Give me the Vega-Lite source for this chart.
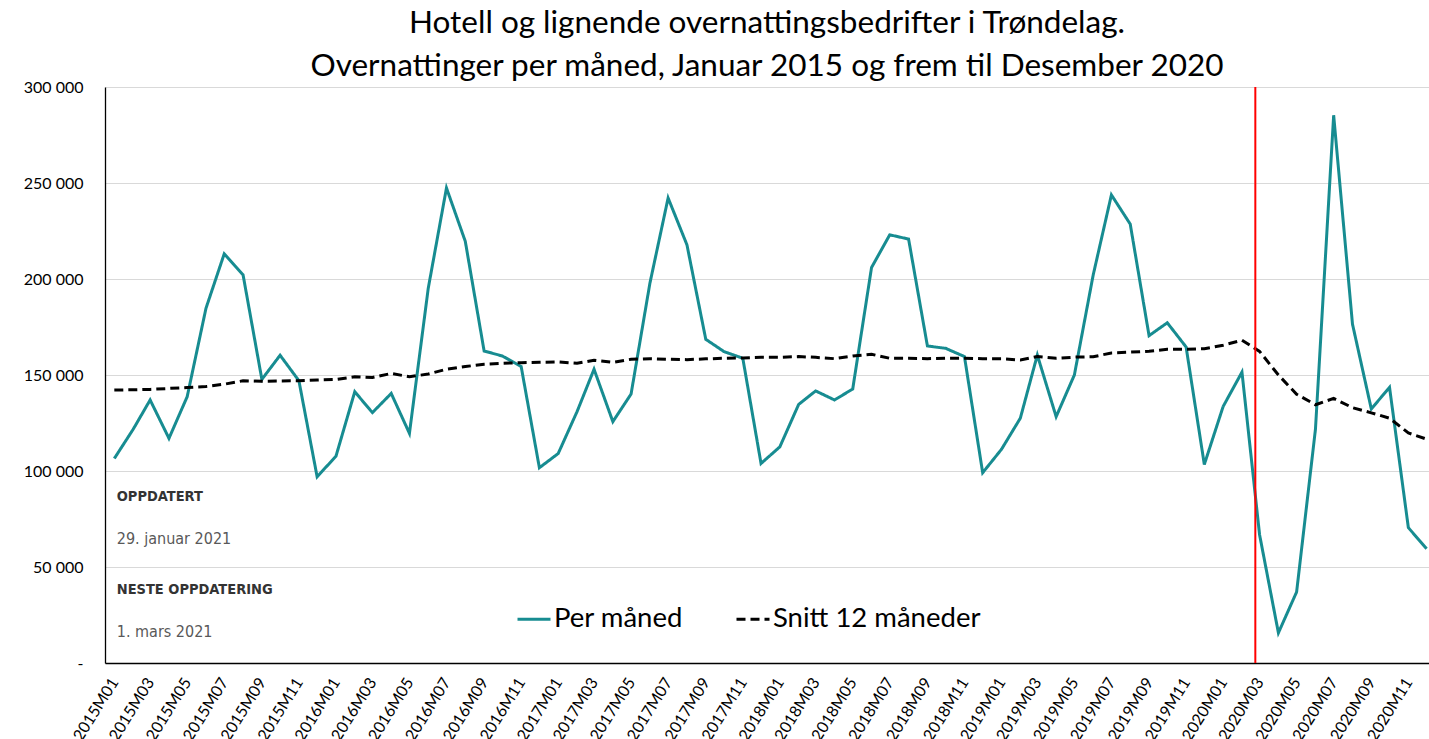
{
  "$schema": "https://vega.github.io/schema/vega-lite/v6.json",
  "width": 1324,
  "height": 576,
  "autosize": {"type": "none"},
  "padding": {"left": 105, "top": 87, "right": 0, "bottom": 76},
  "background": "white",
  "title": {
    "text": ["Hotell og lignende overnattingsbedrifter i Trøndelag.", "Overnattinger per måned, Januar 2015 og frem til Desember 2020"],
    "font": "Lato", "fontSize": 31.5, "fontWeight": "normal", "color": "#000000",
    "lineHeight": 43, "anchor": "middle", "offset": 12, "baseline": "alphabetic", "dy": 40
  },
  "config": {"view": {"stroke": null}, "font": "Lato"},
  "data": {"values": [
    {"m": "2015-01-01", "Per måned": 106500, "Snitt 12 måneder": 142200},
    {"m": "2015-02-01", "Per måned": 121700, "Snitt 12 måneder": 142300},
    {"m": "2015-03-01", "Per måned": 137000, "Snitt 12 måneder": 142500},
    {"m": "2015-04-01", "Per måned": 117000, "Snitt 12 måneder": 143000},
    {"m": "2015-05-01", "Per måned": 138700, "Snitt 12 måneder": 143500},
    {"m": "2015-06-01", "Per måned": 184800, "Snitt 12 måneder": 144000},
    {"m": "2015-07-01", "Per måned": 213100, "Snitt 12 måneder": 145200},
    {"m": "2015-08-01", "Per måned": 202200, "Snitt 12 måneder": 147000},
    {"m": "2015-09-01", "Per måned": 147700, "Snitt 12 måneder": 146700},
    {"m": "2015-10-01", "Per måned": 160300, "Snitt 12 måneder": 146900},
    {"m": "2015-11-01", "Per måned": 147000, "Snitt 12 måneder": 147000},
    {"m": "2015-12-01", "Per måned": 97000, "Snitt 12 måneder": 147400},
    {"m": "2016-01-01", "Per måned": 107700, "Snitt 12 måneder": 147700},
    {"m": "2016-02-01", "Per måned": 141300, "Snitt 12 måneder": 149100},
    {"m": "2016-03-01", "Per måned": 130400, "Snitt 12 måneder": 148700},
    {"m": "2016-04-01", "Per måned": 140400, "Snitt 12 måneder": 150800},
    {"m": "2016-05-01", "Per måned": 119600, "Snitt 12 måneder": 149100},
    {"m": "2016-06-01", "Per måned": 195200, "Snitt 12 måneder": 150500},
    {"m": "2016-07-01", "Per måned": 247400, "Snitt 12 måneder": 153000},
    {"m": "2016-08-01", "Per måned": 219600, "Snitt 12 måneder": 154400},
    {"m": "2016-09-01", "Per måned": 162500, "Snitt 12 måneder": 155600},
    {"m": "2016-10-01", "Per måned": 159900, "Snitt 12 måneder": 156100},
    {"m": "2016-11-01", "Per måned": 154400, "Snitt 12 måneder": 156400},
    {"m": "2016-12-01", "Per måned": 101700, "Snitt 12 måneder": 156600},
    {"m": "2017-01-01", "Per måned": 109100, "Snitt 12 måneder": 156800},
    {"m": "2017-02-01", "Per måned": 130900, "Snitt 12 måneder": 156100},
    {"m": "2017-03-01", "Per måned": 153000, "Snitt 12 måneder": 157700},
    {"m": "2017-04-01", "Per måned": 125700, "Snitt 12 måneder": 156600},
    {"m": "2017-05-01", "Per måned": 140100, "Snitt 12 måneder": 158200},
    {"m": "2017-06-01", "Per måned": 197800, "Snitt 12 måneder": 158500},
    {"m": "2017-07-01", "Per måned": 242200, "Snitt 12 måneder": 158200},
    {"m": "2017-08-01", "Per måned": 217800, "Snitt 12 måneder": 158000},
    {"m": "2017-09-01", "Per måned": 168600, "Snitt 12 måneder": 158400},
    {"m": "2017-10-01", "Per måned": 162200, "Snitt 12 måneder": 158700},
    {"m": "2017-11-01", "Per måned": 158700, "Snitt 12 måneder": 158900},
    {"m": "2017-12-01", "Per måned": 103900, "Snitt 12 måneder": 159200},
    {"m": "2018-01-01", "Per måned": 112600, "Snitt 12 måneder": 159200},
    {"m": "2018-02-01", "Per måned": 134700, "Snitt 12 måneder": 159600},
    {"m": "2018-03-01", "Per måned": 141700, "Snitt 12 måneder": 159200},
    {"m": "2018-04-01", "Per måned": 137000, "Snitt 12 måneder": 158500},
    {"m": "2018-05-01", "Per måned": 142700, "Snitt 12 måneder": 159900},
    {"m": "2018-06-01", "Per måned": 206000, "Snitt 12 måneder": 160800},
    {"m": "2018-07-01", "Per måned": 223000, "Snitt 12 måneder": 158700},
    {"m": "2018-08-01", "Per måned": 220800, "Snitt 12 måneder": 158700},
    {"m": "2018-09-01", "Per måned": 165100, "Snitt 12 måneder": 158500},
    {"m": "2018-10-01", "Per måned": 163900, "Snitt 12 måneder": 158700},
    {"m": "2018-11-01", "Per måned": 159600, "Snitt 12 måneder": 158700},
    {"m": "2018-12-01", "Per måned": 99100, "Snitt 12 måneder": 158500},
    {"m": "2019-01-01", "Per måned": 111300, "Snitt 12 måneder": 158500},
    {"m": "2019-02-01", "Per måned": 127500, "Snitt 12 måneder": 157800},
    {"m": "2019-03-01", "Per måned": 160400, "Snitt 12 måneder": 159600},
    {"m": "2019-04-01", "Per måned": 128300, "Snitt 12 måneder": 158700},
    {"m": "2019-05-01", "Per måned": 150000, "Snitt 12 måneder": 159300},
    {"m": "2019-06-01", "Per måned": 202100, "Snitt 12 måneder": 159500},
    {"m": "2019-07-01", "Per måned": 243800, "Snitt 12 måneder": 161500},
    {"m": "2019-08-01", "Per måned": 228600, "Snitt 12 måneder": 161900},
    {"m": "2019-09-01", "Per måned": 170500, "Snitt 12 måneder": 162400},
    {"m": "2019-10-01", "Per måned": 177200, "Snitt 12 måneder": 163400},
    {"m": "2019-11-01", "Per måned": 164600, "Snitt 12 måneder": 163400},
    {"m": "2019-12-01", "Per måned": 103400, "Snitt 12 måneder": 163700},
    {"m": "2020-01-01", "Per måned": 133600, "Snitt 12 måneder": 165500},
    {"m": "2020-02-01", "Per måned": 151500, "Snitt 12 måneder": 168100},
    {"m": "2020-03-01", "Per måned": 66800, "Snitt 12 måneder": 162300},
    {"m": "2020-04-01", "Per måned": 15700, "Snitt 12 måneder": 150000},
    {"m": "2020-05-01", "Per måned": 37000, "Snitt 12 måneder": 140000},
    {"m": "2020-06-01", "Per måned": 121700, "Snitt 12 måneder": 134500},
    {"m": "2020-07-01", "Per måned": 285300, "Snitt 12 måneder": 137800},
    {"m": "2020-08-01", "Per måned": 176500, "Snitt 12 måneder": 133000},
    {"m": "2020-09-01", "Per måned": 132300, "Snitt 12 måneder": 130300},
    {"m": "2020-10-01", "Per måned": 143600, "Snitt 12 måneder": 127500},
    {"m": "2020-11-01", "Per måned": 70500, "Snitt 12 måneder": 119800},
    {"m": "2020-12-01", "Per måned": 59500, "Snitt 12 måneder": 116600}
  ]},
  "layer": [
    {
      "transform": [{"fold": ["Per måned", "Snitt 12 måneder"], "as": ["serie", "verdi"]}],
      "mark": {"type": "line", "strokeWidth": 3},
      "encoding": {
        "x": {
          "field": "m", "type": "temporal",
          "scale": {"type": "utc", "domain": [{"year": 2014, "month": 12, "date": 16, "hours": 16, "utc": true}, {"year": 2020, "month": 12, "date": 5, "utc": true}]},
          "axis": {
            "title": null, "tickCount": {"interval": "month", "step": 2},
            "labelExpr": "utcFormat(datum.value, '%YM%m')",
            "labelAngle": -58, "labelFont": "Lato", "labelFontSize": 16, "labelColor": "#000000",
            "labelPadding": 16, "ticks": false, "grid": false, "domainColor": "#000000", "domainWidth": 1.3,
            "labelOverlap": false, "labelFlush": false, "labelBound": false
          }
        },
        "y": {
          "field": "verdi", "type": "quantitative",
          "scale": {"domain": [0, 300000], "nice": false},
          "axis": {
            "title": null, "values": [0, 50000, 100000, 150000, 200000, 250000, 300000],
            "labelExpr": "datum.value == 0 ? '-' : replace(format(datum.value, ','), ',', ' ')",
            "labelFont": "Lato", "labelFontSize": 16, "labelColor": "#000000", "labelPadding": 22,
            "ticks": false, "domainColor": "#000000", "domainWidth": 1.3,
            "gridColor": "#d9d9d9", "gridWidth": 1,
            "encode": {"labels": {"update": {"dx": {"signal": "datum.value === 0 ? -9 : 0"}}}}
          }
        },
        "color": {
          "field": "serie", "type": "nominal",
          "scale": {"domain": ["Per måned", "Snitt 12 måneder"], "range": ["#178c91", "#000000"]},
          "legend": {"title": null, "orient": "none", "legendX": 411, "legendY": 514, "direction": "horizontal", "symbolType": "stroke", "symbolSize": 1089, "symbolStrokeWidth": 3, "labelFont": "Lato", "labelFontSize": 27.5, "labelColor": "#000000", "columnPadding": 47, "labelOffset": 2, "padding": 0, "labelLimit": 400}
        },
        "strokeDash": {
          "field": "serie", "type": "nominal",
          "scale": {"domain": ["Per måned", "Snitt 12 måneder"], "range": [[1, 0], [9, 5]]},
          "legend": {"title": null, "orient": "none", "legendX": 411, "legendY": 514, "direction": "horizontal", "symbolType": "stroke", "symbolSize": 1089, "symbolStrokeWidth": 3, "labelFont": "Lato", "labelFontSize": 27.5, "labelColor": "#000000", "columnPadding": 47, "labelOffset": 2, "padding": 0, "labelLimit": 400}
        }
      }
    },
    {
      "data": {"values": [{"d": "2020-02-23"}]},
      "mark": {"type": "rule", "color": "#ff0000", "strokeWidth": 2},
      "encoding": {"x": {"field": "d", "type": "temporal"}}
    },
    {
      "data": {"values": [{}]},
      "mark": {"type": "text", "text": "OPPDATERT", "align": "left", "baseline": "middle", "font": "DejaVu Sans Condensed, sans-serif", "fontWeight": "bold", "fontSize": 14.5, "color": "#333333"},
      "encoding": {"x": {"datum": {"year": 2015, "month": 1, "date": 5, "utc": true}, "type": "temporal"}, "y": {"datum": 86600, "type": "quantitative"}}
    },
    {
      "data": {"values": [{}]},
      "mark": {"type": "text", "text": "29. januar 2021", "align": "left", "baseline": "middle", "font": "DejaVu Sans Condensed, sans-serif", "fontSize": 16, "color": "#595959"},
      "encoding": {"x": {"datum": {"year": 2015, "month": 1, "date": 5, "utc": true}, "type": "temporal"}, "y": {"datum": 64700, "type": "quantitative"}}
    },
    {
      "data": {"values": [{}]},
      "mark": {"type": "text", "text": "NESTE OPPDATERING", "align": "left", "baseline": "middle", "font": "DejaVu Sans Condensed, sans-serif", "fontWeight": "bold", "fontSize": 14.5, "color": "#333333"},
      "encoding": {"x": {"datum": {"year": 2015, "month": 1, "date": 5, "utc": true}, "type": "temporal"}, "y": {"datum": 38200, "type": "quantitative"}}
    },
    {
      "data": {"values": [{}]},
      "mark": {"type": "text", "text": "1. mars 2021", "align": "left", "baseline": "middle", "font": "DejaVu Sans Condensed, sans-serif", "fontSize": 16, "color": "#595959"},
      "encoding": {"x": {"datum": {"year": 2015, "month": 1, "date": 5, "utc": true}, "type": "temporal"}, "y": {"datum": 16300, "type": "quantitative"}}
    }
  ]
}
